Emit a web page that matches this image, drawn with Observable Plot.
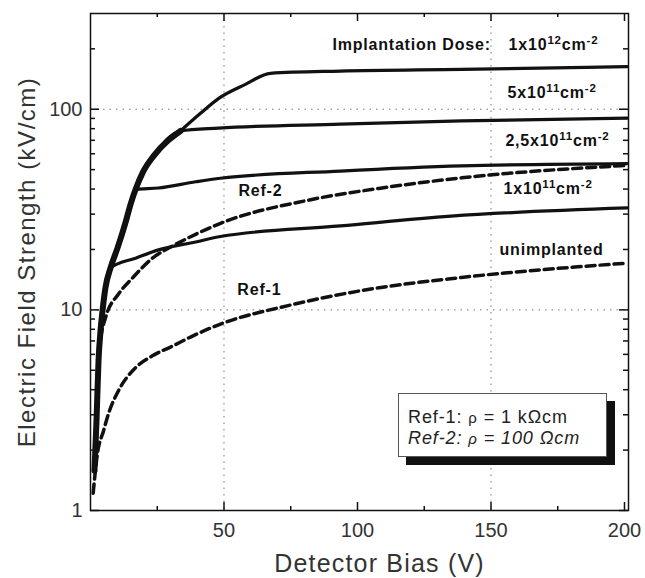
<!DOCTYPE html>
<html>
<head>
<meta charset="utf-8">
<script src="https://cdn.jsdelivr.net/npm/d3@7"></script>
<script src="https://cdn.jsdelivr.net/npm/@observablehq/plot@0.6"></script>
<style>
  body { margin: 0; background: #fff; }
  #chart { position: relative; width: 645px; height: 578px; font-family: "Liberation Sans", Arial, sans-serif; }
  #chart svg { display: block; }
  .legend {
    position: absolute; left: 398px; top: 393px; width: 209px; height: 64px;
    box-sizing: border-box; border: 1px solid #555; background: #fff;
    box-shadow: 8px 8px 0 #111;
    padding: 13px 0 0 9px; font-size: 18px; line-height: 21px; letter-spacing: 0.9px; color: #222;
    white-space: nowrap;
  }
  .legend .rho { font-size: 15px; }
  .legend .it { font-style: italic; }
</style>
</head>
<body>
<div id="chart">
  <div class="legend">
    <div>Ref-1: <span class="rho">ρ</span> = 1 kΩcm</div>
    <div class="it">Ref-2: <span class="rho">ρ</span> = 100 Ωcm</div>
  </div>
</div>
<script>
// Axis ticks
const biasTicks = [50, 100, 150, 200];
const biasMinorTicks = [25, 75, 125, 175];
const fieldTicks = [1, 10, 100];
const fieldMinorTicks = [2, 3, 4, 5, 6, 7, 8, 9, 20, 30, 40, 50, 60, 70, 80, 90, 200];

// Common rise of the implanted detectors (bias in V, field in kV/cm)
const envelopeBias  = [1.5, 2.25, 3.0, 3.75, 4.5, 5.6, 7.5, 10.1, 13.1, 15.0, 16.9, 19.5, 23.6, 33.7, 41.2, 47.9, 58, 67.4];
const envelopeField = [1.58, 2.81, 5.57, 7.86, 9.89, 12.9, 16.2, 20.3, 27.2, 33.6, 39.9, 48.2, 58.4, 77.9, 95.4, 113, 133, 151];

// Bias where each implantation dose leaves the common rise
const doseNames = ["1e11", "2.5e11", "5e11", "1e12"];
const doseKinkBias = [7.5, 16.9, 33.7, 67.4];

// Saturated branches after the kink
const dose1e11Bias   = [16.9, 25.5, 39.4, 48.7, 93.6, 135, 201];
const dose1e11Field  = [18.1, 19.9, 21.8, 23.2, 26.2, 29.3, 32.2];
const dose25e11Bias  = [25.5, 39.4, 48.7, 93.6, 139, 201];
const dose25e11Field = [40.5, 43.5, 45.3, 49.2, 52.2, 53.6];
const dose5e11Bias   = [48, 93.6, 139, 201];
const dose5e11Field  = [80.5, 84.2, 87.4, 90.2];
const dose1e12Bias   = [93.6, 139, 201];
const dose1e12Field  = [155, 158, 163];

// Unimplanted reference detectors
const ref1Bias  = [1.0, 2.6, 4.9, 6.75, 10.5, 16.9, 23.2, 30.7, 38.2, 48.7, 74, 105, 139, 201];
const ref1Field = [1.22, 1.92, 2.5, 3.04, 3.96, 5.15, 5.9, 6.6, 7.4, 8.5, 10.5, 12.7, 14.5, 17.1];
const ref2Bias  = [1.5, 2.5, 3.75, 5.6, 10.5, 15.7, 23.2, 30.7, 39.4, 48.7, 82, 108, 139, 201];
const ref2Field = [1.7, 3.9, 7.0, 9.1, 12.0, 14.4, 18.1, 20.8, 23.8, 27.0, 35.3, 40.3, 45.5, 52.5];

// Curve annotations
const labelText  = ["Implantation Dose:", "1x10^{12}cm^{-2}", "5x10^{11}cm^{-2}", "2,5x10^{11}cm^{-2}", "1x10^{11}cm^{-2}", "unimplanted", "Ref-2", "Ref-1"];
const labelBias  = [90.6, 156.6, 156.2, 155.4, 154.7, 153.2, 55.4, 55];
const labelField = [210, 210, 120, 69.3, 40, 19.9, 39, 12.6];

const pts = (xs, ys) => xs.map((x, i) => ({bias: x, field: ys[i]}));
const envelope = pts(envelopeBias, envelopeField);
const branches = [
  pts(dose1e11Bias, dose1e11Field),
  pts(dose25e11Bias, dose25e11Field),
  pts(dose5e11Bias, dose5e11Field),
  pts(dose1e12Bias, dose1e12Field)
];
const implanted = doseNames.flatMap((name, k) =>
  envelope.filter(d => d.bias <= doseKinkBias[k]).concat(branches[k]).map(d => ({...d, dose: name}))
);
const references = [
  ...pts(ref1Bias, ref1Field).map(d => ({...d, ref: "Ref-1"})),
  ...pts(ref2Bias, ref2Field).map(d => ({...d, ref: "Ref-2"}))
];
const labels = labelText.map((t, i) => ({text: t, bias: labelBias[i], field: labelField[i]}));

// plot area
const W = 645, H = 578, mL = 90, mR = 17, mT = 13, mB = 68;
const frameW = W - mL - mR, frameH = H - mT - mB;

// inward tick marks: full-span ticks inset down to a short stub at one edge
const tickStyle = {stroke: "#111", strokeWidth: 1.5};
const ticksY = (side, values, size) => Plot.tickY(values, {y: d => d, ...tickStyle,
  [side === "left" ? "insetRight" : "insetLeft"]: frameW - size});
const ticksX = (side, values, size) => Plot.tickX(values, {x: d => d, ...tickStyle,
  [side === "bottom" ? "insetTop" : "insetBottom"]: frameH - size});

const plot = Plot.plot({
  width: W,
  height: H,
  marginLeft: mL,
  marginRight: mR,
  marginTop: mT,
  marginBottom: mB,
  style: {fontFamily: "'Liberation Sans', Arial, sans-serif", background: "#fff"},
  x: {domain: [0, 201.5]},
  y: {type: "log", domain: [1, 300]},
  marks: [
    Plot.ruleY([10, 100], {stroke: "#777", strokeDasharray: "1.5,5", strokeWidth: 1}),
    Plot.ruleX([50, 150], {stroke: "#777", strokeDasharray: "1.5,5", strokeWidth: 1}),
    Plot.line(references, {x: "bias", y: "field", z: "ref", stroke: "#111", strokeWidth: 3.5,
      strokeDasharray: "9,5", curve: "monotone-x"}),
    Plot.line(envelope.filter(d => d.bias <= doseKinkBias[2]), {x: "bias", y: "field", stroke: "#111",
      strokeWidth: 6, curve: "monotone-x"}),
    Plot.line(implanted, {x: "bias", y: "field", z: "dose", stroke: "#111", strokeWidth: 3.2, curve: "monotone-x"}),
    Plot.frame({stroke: "#111", strokeWidth: 1.5}),
    ticksY("left", fieldTicks, 9),
    ticksY("left", fieldMinorTicks, 5),
    ticksY("right", fieldTicks, 9),
    ticksY("right", fieldMinorTicks, 5),
    ticksX("bottom", biasTicks, 8),
    ticksX("bottom", biasMinorTicks, 4),
    ticksX("top", biasTicks, 8),
    ticksX("top", biasMinorTicks, 4),
    // tick labels
    Plot.axisY({anchor: "left", ticks: fieldTicks, tickSize: 0, tickPadding: 8, fontSize: 20, fill: "#333",
      tickFormat: d => String(d), label: null}),
    Plot.axisX({anchor: "bottom", ticks: biasTicks, tickSize: 0, tickPadding: 12, fontSize: 20, fill: "#333",
      tickFormat: d => String(d), label: null}),
    // axis titles
    Plot.text(["Electric Field Strength (kV/cm)"], {frameAnchor: "left", rotate: -90, dx: -63, fontSize: 24,
      textAnchor: "middle", lineAnchor: "middle", fill: "#333"}),
    Plot.text(["Detector Bias (V)"], {frameAnchor: "bottom", dy: 53, dx: 20, fontSize: 25, fill: "#333",
      textAnchor: "middle", lineAnchor: "middle"}),
    // curve annotations
    Plot.text(labels, {x: "bias", y: "field", text: "text", textAnchor: "start", lineAnchor: "middle",
      fontSize: 16, fontWeight: "bold", fill: "#111"})
  ]
});

// text mark groups in mark order: y title, x title, curve labels
const [yTitle, xTitle, curveLabels] = plot.querySelectorAll('g[aria-label="text"]');
yTitle.style.letterSpacing = "1.5px";
xTitle.style.letterSpacing = "1.2px";
curveLabels.style.letterSpacing = "0.8px";

// turn ^{...} into raised, smaller tspans
const SVGNS = "http://www.w3.org/2000/svg";
curveLabels.querySelectorAll("text").forEach(t => {
  const s = t.textContent;
  if (!s.includes("^")) return;
  t.textContent = "";
  let shift = 0;
  s.split(/\^\{([^}]*)\}/).forEach((p, i) => {
    if (p === "") return;
    const sup = i % 2 === 1;
    const ts = document.createElementNS(SVGNS, "tspan");
    const target = sup ? -6 : 0;
    if (target !== shift) ts.setAttribute("dy", target - shift);
    shift = target;
    if (sup) ts.setAttribute("font-size", "11.5");
    ts.textContent = p;
    t.appendChild(ts);
  });
});

document.getElementById("chart").prepend(plot);
</script>
</body>
</html>
